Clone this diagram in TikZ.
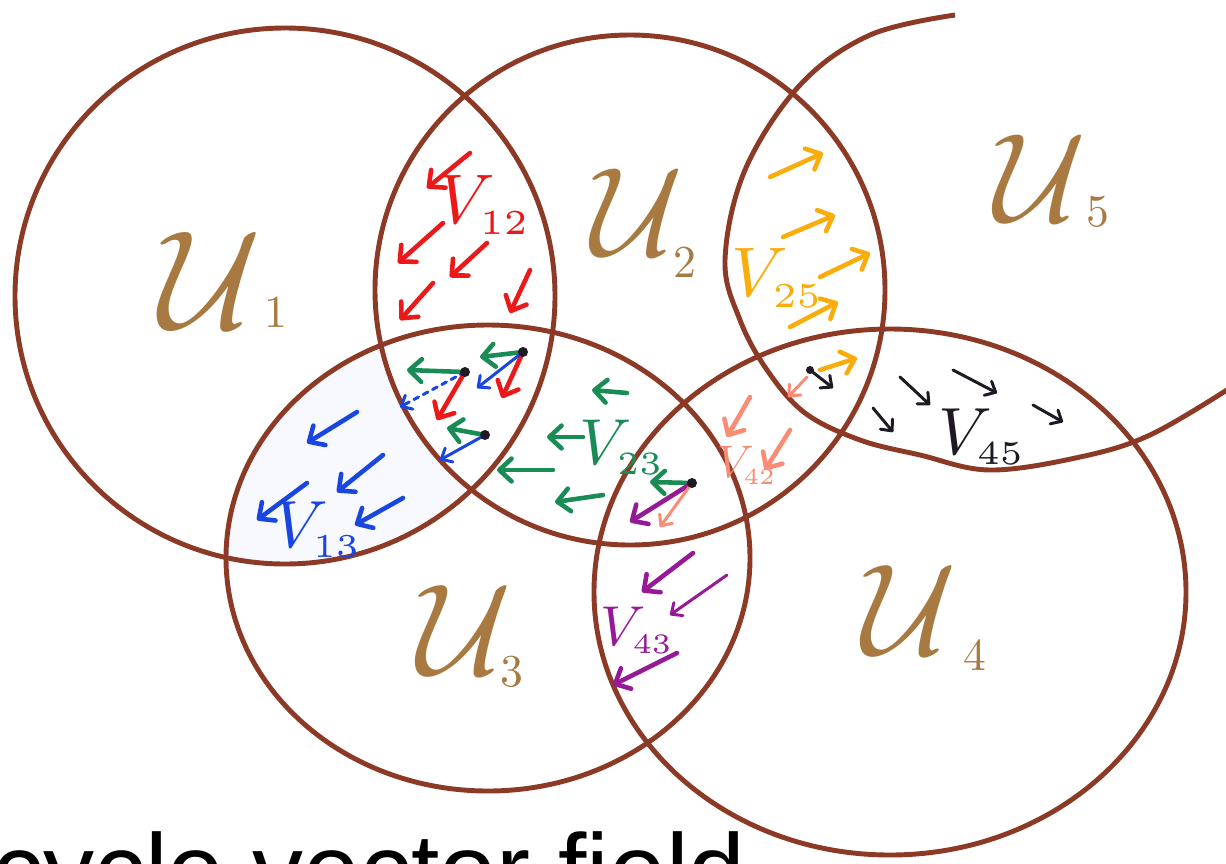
\documentclass[tikz,border=0pt]{standalone}
\usepackage{fontspec}
\newfontfamily\handfont{Liberation Sans}
\usetikzlibrary{arrows.meta}
\definecolor{brn}{RGB}{140,58,38}
\definecolor{ulabel}{RGB}{168,122,66}
\definecolor{vred}{RGB}{235,25,25}
\definecolor{vblue}{RGB}{25,70,225}
\definecolor{vgreen}{RGB}{25,140,85}
\definecolor{vorange}{RGB}{250,172,10}
\definecolor{vsalmon}{RGB}{250,140,115}
\definecolor{vpurple}{RGB}{150,25,150}
\definecolor{vblack}{RGB}{30,25,35}
\newcommand{\vl}[2]{$V_{\scriptscriptstyle #1}$}
\begin{document}
\begin{tikzpicture}[x=0.02cm,y=-0.02cm,
  cov/.style={draw=brn, line width=2.8pt},
  vec/.style={line width=2.6pt, line cap=round, -{Straight Barb[round,length=7pt,width=13pt]}},
  thinvec/.style={line width=1.7pt, line cap=round, -{Straight Barb[round,length=5pt,width=9pt]}},
  ulab/.style={text=ulabel, inner sep=0pt},
  vlab/.style={inner sep=0pt},
  dot/.style={fill=vblack}]
\useasboundingbox (0,0) rectangle (1226,863);
\begin{scope}
\clip (0,0) rectangle (1226,863);
\fill[white] (0,0) rectangle (1226,863);
% faint tint of V13
\begin{scope}
\clip (285,296) ellipse [x radius=270, y radius=268];
\clip (488,558) ellipse [x radius=262, y radius=233];
\fill[vblue!3, even odd rule] (0,0) rectangle (1226,863) (630,290) ellipse [x radius=255, y radius=255];
\end{scope}
% covering sets
\draw[cov] (285,296) ellipse [x radius=270, y radius=268];
\draw[cov] (630,290) ellipse [x radius=255, y radius=255];
\draw[cov] (488,558) ellipse [x radius=262, y radius=233];
\draw[cov] (890,592) ellipse [x radius=296, y radius=263];
\draw[cov] plot[smooth, tension=0.6] coordinates {(955,15) (870,35) (800,85) (745,170) (725,260) (740,320) (767,370) (805,413) (860,440) (920,455) (990,470) (1080,457) (1150,435) (1230,388)};
% U labels
\node[ulab] (u1) at (210,280) {\scalebox{8}{$\mathcal{U}$}};
\node[ulab] (u1s) at (276,312) {\scalebox{2.6}{1}};
\node[ulab] (u2) at (637,212) {\scalebox{7.2}{$\mathcal{U}$}};
\node[ulab] (u2s) at (685,262) {\scalebox{2.6}{2}};
\node[ulab] (u5) at (1040,178) {\scalebox{7.2}{$\mathcal{U}$}};
\node[ulab] (u5s) at (1098,212) {\scalebox{2.6}{5}};
\node[ulab] (u3) at (465,630) {\scalebox{7.4}{$\mathcal{U}$}};
\node[ulab] (u3s) at (512,672) {\scalebox{2.6}{3}};
\node[ulab] (u4) at (910,610) {\scalebox{7.4}{$\mathcal{U}$}};
\node[ulab] (u4s) at (975,655) {\scalebox{2.6}{4}};
% V12 red
\draw[vec,vred] (470,153) -- (427,188);
\draw[vec,vred] (443,223) -- (398,263);
\draw[vec,vred] (487,243) -- (450,277);
\draw[vec,vred] (433,283) -- (400,320);
\draw[vec,vred] (530,270) -- (510,313);
\node[vlab,text=vred] (v12) at (485,205) {\scalebox{4}{\vl{12}{}}};
% triple overlap
\coordinate (d1) at (465,372);
\coordinate (d2) at (523,352);
\coordinate (d3) at (485,435);
\draw[vec,vgreen] (d1) -- (407,370);
\draw[vec,vgreen] (d2) -- (480,357);
\draw[vec,vgreen] (d3) -- (447,428);
\draw[vec,vred] (d1) -- (437,420);
\draw[vec,vred] (d2) -- (502,398);
\draw[thinvec,vblue,dashed] (d1) -- (400,407);
\draw[thinvec,vblue] (d2) -- (477,388);
\draw[thinvec,vblue] (d3) -- (440,460);
\fill[dot] (d1) circle[radius=5];
\fill[dot] (d2) circle[radius=5];
\fill[dot] (d3) circle[radius=5];
% V23 green
\draw[vec,vgreen] (627,393) -- (592,390);
\draw[vec,vgreen] (583,437) -- (547,437);
\draw[vec,vgreen] (553,470) -- (497,470);
\draw[vec,vgreen] (603,495) -- (555,502);
\node[vlab,text=vgreen] (v23) at (622,447) {\scalebox{3.7}{\vl{23}{}}};
\coordinate (d4) at (692,483);
\draw[vec,vgreen] (d4) -- (650,482);
\draw[vec,vpurple] (d4) -- (630,522);
\draw[thinvec,vsalmon] (d4) -- (660,527);
\fill[dot] (d4) circle[radius=5];
% V13 blue
\draw[vec,vblue] (357,412) -- (307,443);
\draw[vec,vblue] (383,455) -- (337,492);
\draw[vec,vblue] (307,483) -- (257,520);
\draw[vec,vblue] (403,498) -- (355,525);
\node[vlab,text=vblue] (v13) at (318,530) {\scalebox{3.8}{\vl{13}{}}};
% V25 orange
\draw[vec,vorange] (770,177) -- (823,153);
\draw[vec,vorange] (783,237) -- (835,215);
\draw[vec,vorange] (820,277) -- (870,253);
\draw[vec,vorange] (790,327) -- (838,302);
\draw[vec,vorange] (820,370) -- (857,358);
\node[vlab,text=vorange] (v25) at (778,278) {\scalebox{4}{\vl{25}{}}};
% V45 black
\coordinate (d5) at (810,370);
\draw[thinvec,vblack] (d5) -- (833,388);
\fill[dot] (d5) circle[radius=4];
\draw[thinvec,vblack] (900,377) -- (930,405);
\draw[thinvec,vblack] (953,370) -- (997,393);
\draw[thinvec,vblack] (873,408) -- (893,432);
\draw[thinvec,vblack] (1033,405) -- (1063,422);
\node[vlab,text=vblack] (v45) at (982,437) {\scalebox{3.8}{\vl{45}{}}};
% V42 salmon
\draw[thinvec,vsalmon] (807,377) -- (788,397);
\draw[vec,vsalmon] (750,397) -- (727,437);
\draw[vec,vsalmon] (790,430) -- (765,470);
\node[vlab,text=vsalmon] (v42) at (747,465) {\scalebox{2.6}{\vl{42}{}}};
% V43 purple
\draw[vec,vpurple] (693,553) -- (642,592);
\draw[thinvec,vpurple] (727,575) -- (670,615);
\draw[vec,vpurple] (677,653) -- (613,685);
\node[vlab,text=vpurple] (v43) at (637,630) {\scalebox{3.2}{\vl{43}{}}};
% caption, cut by the lower edge as in the reference
\node[anchor=base west, inner sep=0pt, font=\handfont\fontsize{58}{60}\selectfont] (cap) at (-8,905) {cycle vector field};
\end{scope}
\end{tikzpicture}
\end{document}
